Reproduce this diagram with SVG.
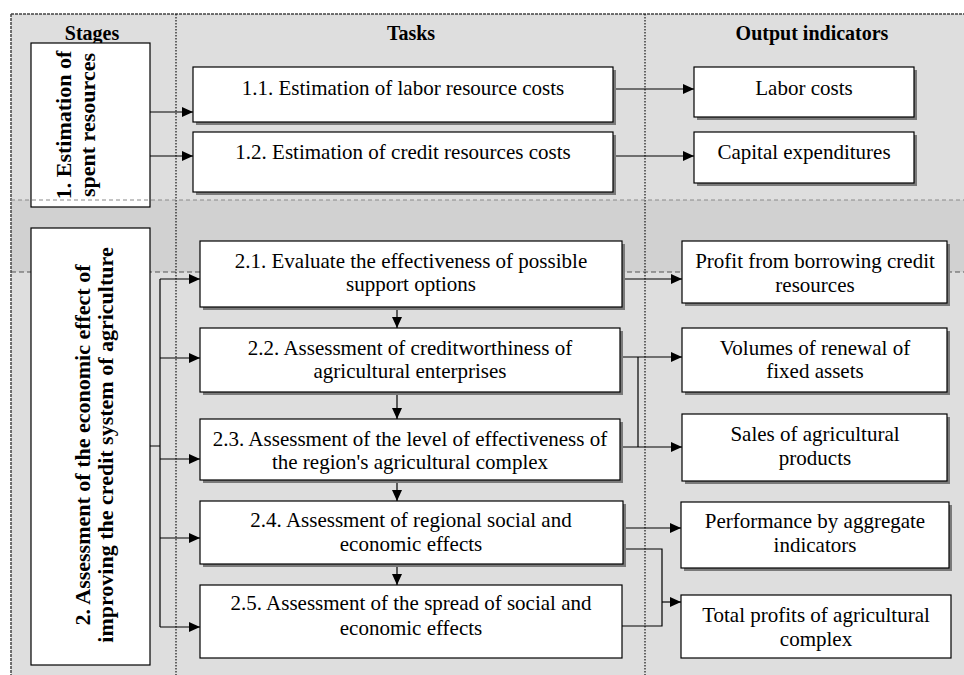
<svg xmlns="http://www.w3.org/2000/svg" width="964" height="675" viewBox="0 0 964 675">
<defs>
<marker id="ah" markerUnits="userSpaceOnUse" markerWidth="11" markerHeight="10" refX="11" refY="5" orient="auto">
<path d="M0,0 L11,5 L0,10 z" fill="#000"/>
</marker>
<style>
.box{fill:#fff;stroke:#000;stroke-width:1.2}
.sh{fill:#7a7a7a}
.t{font-family:"Liberation Serif","Times New Roman",serif;font-size:21px;fill:#000;text-anchor:middle}
.h{font-family:"Liberation Serif","Times New Roman",serif;font-size:20px;font-weight:bold;fill:#000;text-anchor:middle}
.s{font-family:"Liberation Serif","Times New Roman",serif;font-size:22px;font-weight:bold;fill:#000;text-anchor:middle}
.c{fill:none;stroke:#000;stroke-width:1.2}
.a{fill:none;stroke:#000;stroke-width:1.2;marker-end:url(#ah)}
</style>
</defs>
<rect width="964" height="675" fill="#fff"/>
<g id="background">
<rect x="11" y="14" width="953" height="661" fill="#dedede"/>
<rect x="11" y="200" width="953" height="72" fill="#d1d1d1"/>
<line x1="11" y1="272" x2="964" y2="272" stroke="#555" stroke-width="1.2" stroke-dasharray="5 3"/>
<line x1="11" y1="14" x2="964" y2="14" stroke="#444" stroke-width="1.5" stroke-dasharray="3 1"/>
<line x1="11" y1="14" x2="11" y2="675" stroke="#444" stroke-width="1.5" stroke-dasharray="3 1"/>
<line x1="176" y1="14" x2="176" y2="675" stroke="#222" stroke-width="1.3" stroke-dasharray="1.5 1.5"/>
<line x1="645" y1="14" x2="645" y2="675" stroke="#222" stroke-width="1.3" stroke-dasharray="1.5 1.5"/>
</g>
<g id="headers">
<text class="h" x="92" y="40">Stages</text>
<text class="h" x="411" y="40">Tasks</text>
<text class="h" x="812" y="40">Output indicators</text>
</g>
<g id="connectors">
<path class="a" d="M150,112 H193"/>
<path class="a" d="M150,156 H193"/>
<path class="a" d="M613,89 H694"/>
<path class="a" d="M613,156 H694"/>
<path class="c" d="M150,446 H160 M160,279 V627"/>
<path class="a" d="M160,279 H200"/>
<path class="a" d="M160,358 H200"/>
<path class="a" d="M160,459 H200"/>
<path class="a" d="M160,538 H200"/>
<path class="a" d="M160,627 H200"/>
<path class="a" d="M397,307 V328"/>
<path class="a" d="M397,392 V419"/>
<path class="a" d="M397,480 V501"/>
<path class="a" d="M397,564 V585"/>
<path class="a" d="M622,279 H682"/>
<path class="a" d="M620,357 H682"/>
<path class="a" d="M620,447 H682"/>
<path class="c" d="M638,357 V447"/>
<path class="a" d="M623,528 H681"/>
<path class="c" d="M623,549 H662 V626 H622"/>
<path class="a" d="M662,602 H681"/>
</g>
<g id="stage1">
<rect class="box" x="31" y="43" width="119" height="164"/>
<text class="s" transform="translate(71,125) rotate(-90)">1. Estimation of</text>
<text class="s" transform="translate(95,125) rotate(-90)">spent resources</text>
</g>
<line x1="11" y1="200" x2="964" y2="200" stroke="#8a8a8a" stroke-width="1.2" stroke-dasharray="4 3"/>
<g id="stage2">
<rect class="box" x="31" y="228" width="119" height="437"/>
<text class="s" transform="translate(90,445) rotate(-90)">2. Assessment of the economic effect of</text>
<text class="s" transform="translate(113,445) rotate(-90)">improving the credit system of agriculture</text>
</g>
<g id="task11">
<rect class="sh" x="196" y="70" width="420" height="55"/>
<rect class="box" x="193" y="67" width="420" height="55"/>
<text class="t" x="403" y="95">1.1. Estimation of labor resource costs</text>
</g>
<g id="task12">
<rect class="sh" x="196" y="135" width="420" height="60"/>
<rect class="box" x="193" y="132" width="420" height="60"/>
<text class="t" x="403" y="159">1.2. Estimation of credit resources costs</text>
</g>
<g id="out11">
<rect class="sh" x="697" y="70" width="220" height="50"/>
<rect class="box" x="694" y="67" width="220" height="50"/>
<text class="t" x="804" y="95">Labor costs</text>
</g>
<g id="out12">
<rect class="sh" x="697" y="135" width="220" height="51"/>
<rect class="box" x="694" y="132" width="220" height="51"/>
<text class="t" x="804" y="159">Capital expenditures</text>
</g>
<g id="task21">
<rect class="sh" x="203" y="244" width="422" height="66"/>
<rect class="box" x="200" y="241" width="422" height="66"/>
<text class="t" x="411" y="268">2.1. Evaluate the effectiveness of possible</text>
<text class="t" x="411" y="291">support options</text>
</g>
<g id="task22">
<rect class="sh" x="203" y="331" width="420" height="64"/>
<rect class="box" x="200" y="328" width="420" height="64"/>
<text class="t" x="410" y="355">2.2. Assessment of creditworthiness of</text>
<text class="t" x="410" y="378">agricultural enterprises</text>
</g>
<g id="task23">
<rect class="sh" x="203" y="422" width="420" height="61"/>
<rect class="box" x="200" y="419" width="420" height="61"/>
<text class="t" x="410" y="446">2.3. Assessment of the level of effectiveness of</text>
<text class="t" x="410" y="469">the region's agricultural complex</text>
</g>
<g id="task24">
<rect class="sh" x="203" y="504" width="423" height="63"/>
<rect class="box" x="200" y="501" width="423" height="63"/>
<text class="t" x="411" y="527">2.4. Assessment of regional social and</text>
<text class="t" x="411" y="551">economic effects</text>
</g>
<g id="task25">
<rect class="box" x="200" y="585" width="422" height="73"/>
<text class="t" x="411" y="610">2.5. Assessment of the spread of social and</text>
<text class="t" x="411" y="635">economic effects</text>
</g>
<g id="out21">
<rect class="sh" x="685" y="244" width="265" height="62"/>
<rect class="box" x="682" y="241" width="265" height="62"/>
<text class="t" x="815" y="268">Profit from borrowing credit</text>
<text class="t" x="815" y="292">resources</text>
</g>
<g id="out22">
<rect class="sh" x="685" y="331" width="265" height="64"/>
<rect class="box" x="682" y="328" width="265" height="64"/>
<text class="t" x="815" y="355">Volumes of renewal of</text>
<text class="t" x="815" y="378">fixed assets</text>
</g>
<g id="out23">
<rect class="sh" x="685" y="417" width="265" height="67"/>
<rect class="box" x="682" y="414" width="265" height="67"/>
<text class="t" x="815" y="441">Sales of agricultural</text>
<text class="t" x="815" y="465">products</text>
</g>
<g id="out24">
<rect class="sh" x="684" y="505" width="268" height="66"/>
<rect class="box" x="681" y="502" width="268" height="66"/>
<text class="t" x="815" y="528">Performance by aggregate</text>
<text class="t" x="815" y="552">indicators</text>
</g>
<g id="out25">
<rect class="box" x="681" y="595" width="270" height="63"/>
<text class="t" x="816" y="622">Total profits of agricultural</text>
<text class="t" x="816" y="646">complex</text>
</g>
</svg>
